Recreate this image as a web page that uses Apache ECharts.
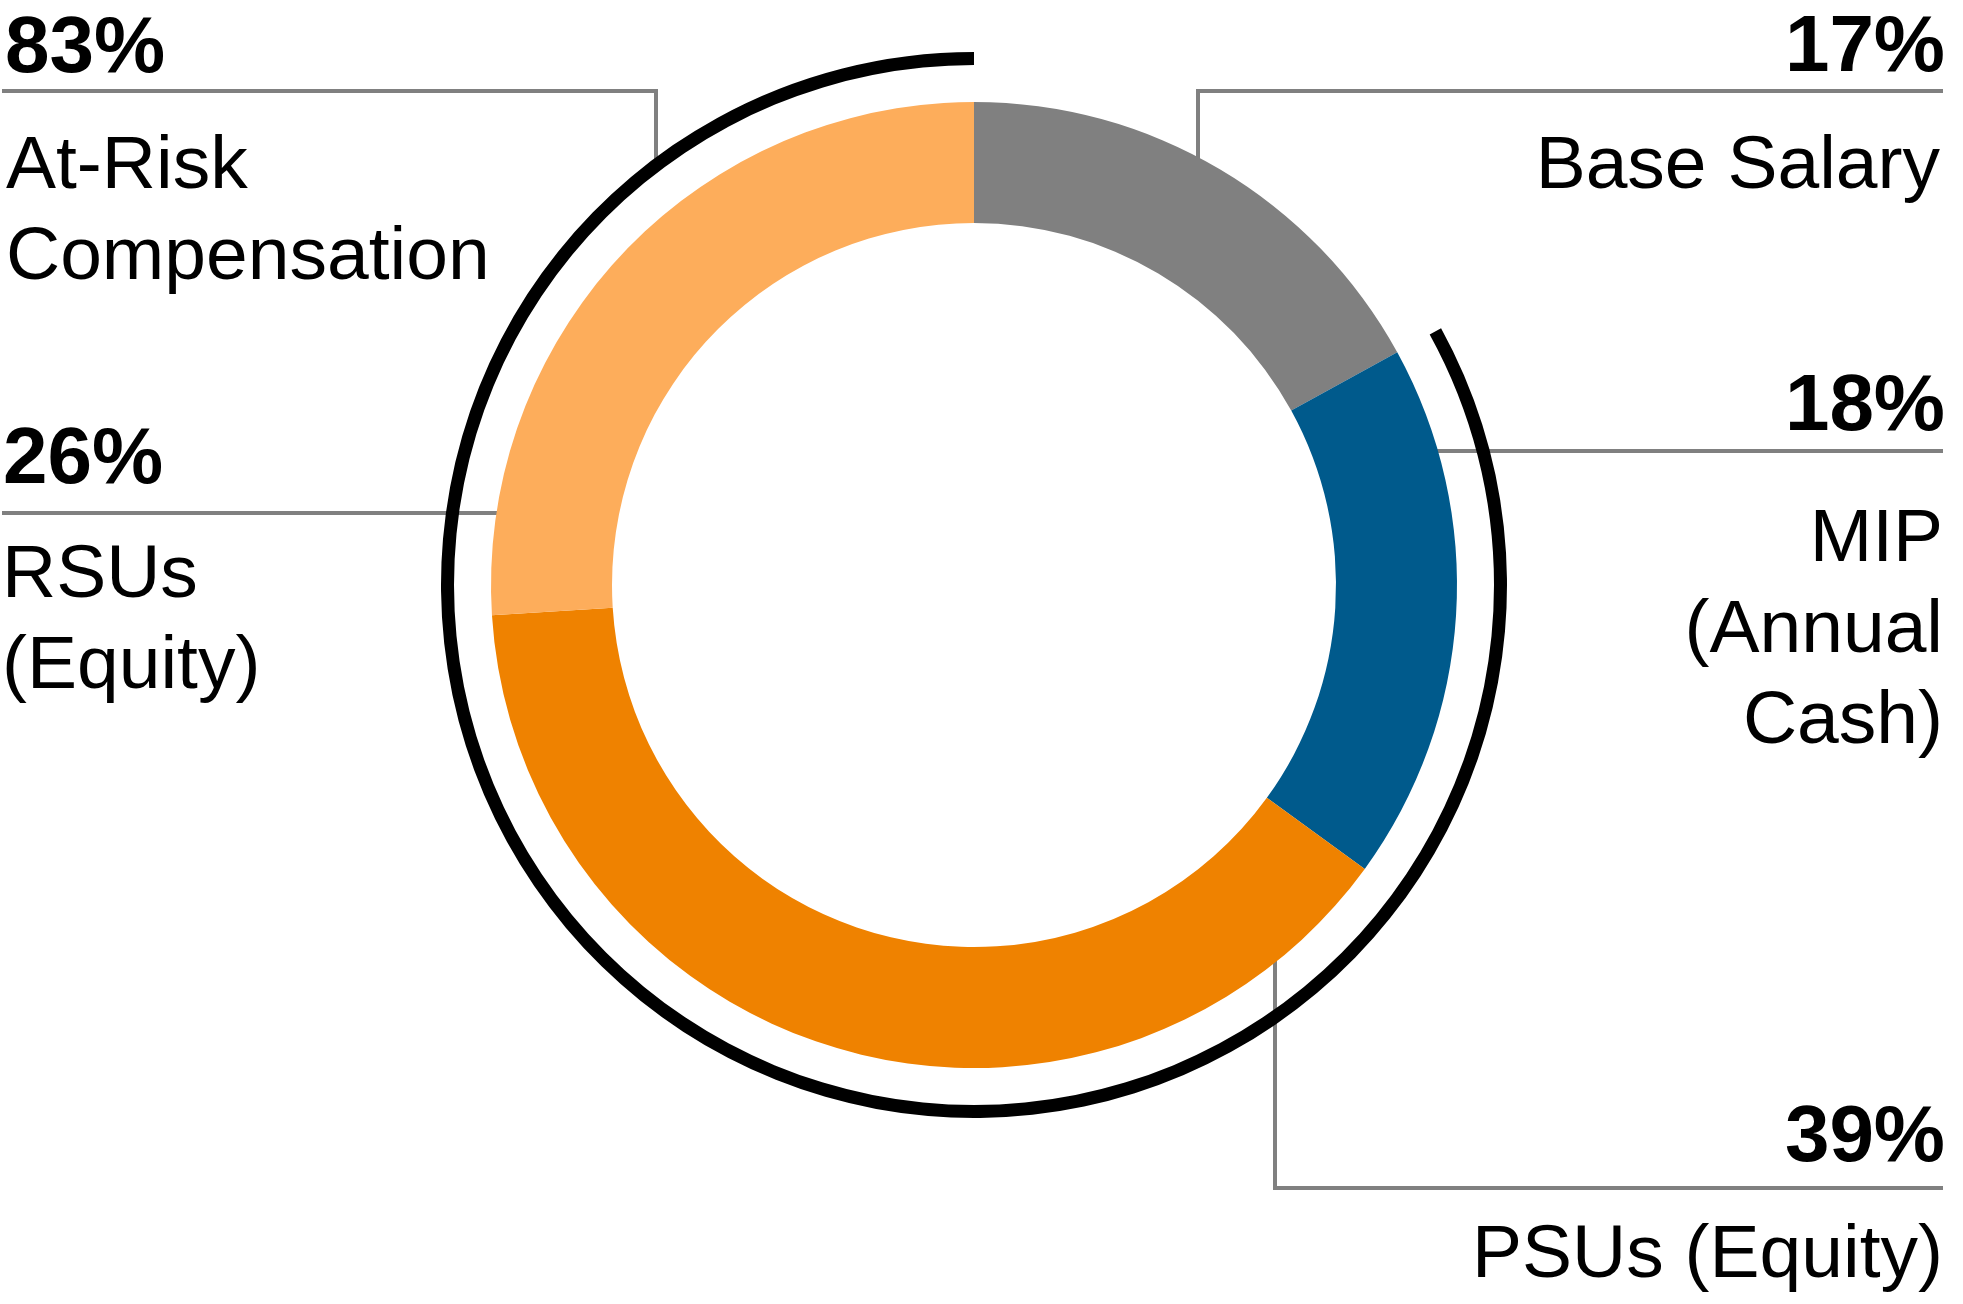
<!DOCTYPE html>
<html>
<head>
<meta charset="utf-8">
<style>
  html, body { margin: 0; padding: 0; background: #ffffff; }
  #chart { width: 1963px; height: 1304px; }
</style>
<script src="https://cdn.jsdelivr.net/npm/echarts@6/dist/echarts.min.js"></script>
</head>
<body>
<div id="chart"></div>
<script>
// ---- data ----
var categories = ['Base Salary', 'MIP\n(Annual\nCash)', 'PSUs (Equity)', 'RSUs\n(Equity)'];
var values = [17, 18, 39, 26];
var colors = ['#808080', '#005A8C', '#EF8200', '#FDAD5B'];
var groupLabel = 'At-Risk\nCompensation';
var groupValue = 83;   // At-Risk share (MIP + PSUs + RSUs)
var fixedValue = 17;   // Base Salary share (not at risk)

// ---- layout ----
var CX = 974, CY = 585;
var R_IN = 362, R_OUT = 483;
var ARC_IN = 520, ARC_OUT = 533;
var FONT = '"Liberation Sans", Arial, Helvetica, sans-serif';
var BOLD = 80, REG = 75, LH = 91;
var GRAY = '#808080';

function pct(v) { return v + '%'; }
function boldText(text, x, y, align) {
  return { type: 'text', x: x, y: y,
    style: { text: text, fill: '#000', font: 'bold ' + BOLD + 'px ' + FONT,
             align: align, verticalAlign: 'top', lineHeight: BOLD } };
}
function regText(text, x, y, align) {
  return { type: 'text', x: x, y: y,
    style: { text: text, fill: '#000', font: REG + 'px ' + FONT,
             align: align, verticalAlign: 'top', lineHeight: LH } };
}
function line(points) {
  return { type: 'polyline', shape: { points: points },
    style: { stroke: GRAY, lineWidth: 4, fill: 'none' } };
}

var chart = echarts.init(document.getElementById('chart'), null, { renderer: 'canvas' });

var pieData = categories.map(function (c, i) {
  return { name: c, value: values[i], itemStyle: { color: colors[i] } };
});

var option = {
  animation: false,
  backgroundColor: '#ffffff',
  series: [
    {
      type: 'pie',
      center: [CX, CY],
      radius: [R_IN, R_OUT],
      startAngle: 90,
      clockwise: true,
      silent: true,
      label: { show: false },
      labelLine: { show: false },
      itemStyle: { borderWidth: 0 },
      emphasis: { disabled: true },
      data: pieData
    },
    {
      type: 'pie',
      center: [CX, CY],
      radius: [ARC_IN, ARC_OUT],
      startAngle: 90,
      clockwise: true,
      silent: true,
      z: 3,
      label: { show: false },
      labelLine: { show: false },
      itemStyle: { borderWidth: 0 },
      emphasis: { disabled: true },
      data: [
        { name: 'fixed', value: fixedValue, itemStyle: { color: 'rgba(0,0,0,0)' } },
        { name: 'At-Risk', value: groupValue, itemStyle: { color: '#000000' } }
      ]
    }
  ],
  graphic: [
    // leader lines
    line([[2, 91], [656, 91], [656, 162]]),
    line([[1943, 91], [1198, 91], [1198, 168]]),
    line([[1428, 451], [1943, 451]]),
    line([[1275, 955], [1275, 1188], [1943, 1188]]),
    line([[2, 513], [500, 513]]),
    // At-Risk
    boldText(pct(groupValue), 5, 10, 'left'),
    regText(groupLabel, 6, 122, 'left'),
    // Base Salary
    boldText(pct(values[0]), 1945, 9, 'right'),
    regText(categories[0], 1940, 122, 'right'),
    // MIP
    boldText(pct(values[1]), 1945, 368, 'right'),
    regText(categories[1], 1943, 495, 'right'),
    // PSUs
    boldText(pct(values[2]), 1945, 1099, 'right'),
    regText(categories[2], 1943, 1211, 'right'),
    // RSUs
    boldText(pct(values[3]), 3, 421, 'left'),
    regText(categories[3], 2, 531, 'left')
  ]
};
chart.setOption(option);
</script>
</body>
</html>
